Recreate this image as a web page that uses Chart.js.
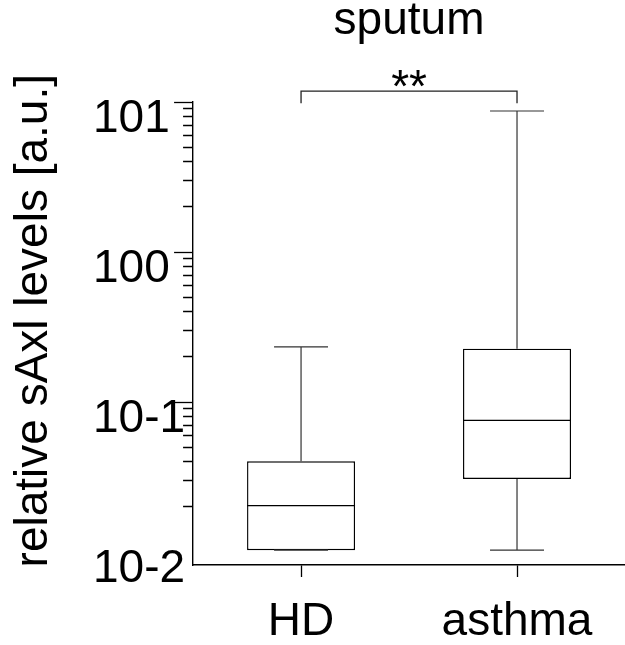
<!DOCTYPE html>
<html>
<head>
<meta charset="utf-8">
<script src="https://cdn.jsdelivr.net/npm/chart.js@4.4.0/dist/chart.umd.min.js"></script>
<style>
  html, body { margin: 0; padding: 0; background: #fff; }
  canvas { display: block; }
</style>
</head>
<body>
<canvas id="chart" width="625" height="645"></canvas>
<script>
// box plot values (log axis)
const categories = ['HD', 'asthma'];
const whiskerMin = [0.0103, 0.0103];
const quartile1  = [0.0103, 0.0307];
const medians    = [0.0204, 0.0755];
const quartile3  = [0.0403, 0.227];
const whiskerMax = [0.233, 8.71];

// significance bracket HD vs asthma
const sigLabel = '**';
const sigBracket = [9.8, 11.8]; // foot of the legs, top of the bracket

// y axis
const yMin = 0.0082;
const yMax = 10;
const yMajorTicks = [0.01, 0.1, 1, 10];
const yTickLabels = ['10-2', '10-1', '100', '101'];
const yMinorTicks = [0.02, 0.03, 0.04, 0.05, 0.06, 0.07, 0.08, 0.09,
                     0.2, 0.3, 0.4, 0.5, 0.6, 0.7, 0.8, 0.9,
                     2, 3, 4, 5, 6, 7, 8, 9];

const titleText = 'sputum';
const yTitleText = '  relative sAxl levels [a.u.]';

const FONT = "'Liberation Sans', Arial, sans-serif";
Chart.defaults.font.family = FONT;
Chart.defaults.color = '#000';

// half widths in category units (box and whisker caps)
const boxHalf = 0.25;
const capHalf = 0.125;

const gap = x => ({ x: x, y: null });

const whiskerPts = [];
const medianPts = [];
categories.forEach((c, i) => {
    whiskerPts.push({ x: i, y: quartile3[i] }, { x: i, y: whiskerMax[i] }, gap(i));
    whiskerPts.push({ x: i, y: quartile1[i] }, { x: i, y: whiskerMin[i] }, gap(i));
    whiskerPts.push({ x: i - capHalf, y: whiskerMax[i] }, { x: i + capHalf, y: whiskerMax[i] }, gap(i));
    whiskerPts.push({ x: i - capHalf, y: whiskerMin[i] }, { x: i + capHalf, y: whiskerMin[i] }, gap(i));
    medianPts.push({ x: i - boxHalf, y: medians[i] }, { x: i + boxHalf, y: medians[i] }, gap(i));
});

const bracketPts = [
    { x: 0, y: sigBracket[0] }, { x: 0, y: sigBracket[1] },
    { x: 1, y: sigBracket[1] }, { x: 1, y: sigBracket[0] }
];

const boxes = categories.map((c, i) => ({ x: i, y: [quartile1[i], quartile3[i]] }));

const lineStyle = {
    type: 'line',
    pointRadius: 0,
    fill: false,
    tension: 0,
    spanGaps: false
};

new Chart(document.getElementById('chart'), {
    type: 'bar',
    data: {
        datasets: [
            Object.assign({ data: medianPts, borderColor: '#000', borderWidth: 1.3 }, lineStyle),
            Object.assign({ data: whiskerPts, borderColor: '#333', borderWidth: 1.2 }, lineStyle),
            Object.assign({ data: bracketPts, borderColor: '#222', borderWidth: 1.3, clip: false }, lineStyle),
            {
                type: 'bar',
                data: boxes,
                backgroundColor: '#fff',
                borderColor: '#000',
                borderWidth: 1.4,
                borderSkipped: false,
                categoryPercentage: 1,
                barPercentage: 0.5
            }
        ]
    },
    options: {
        responsive: false,
        animation: false,
        devicePixelRatio: 1,
        layout: { padding: { top: 0, left: 0, right: 0, bottom: -22 } },
        plugins: {
            legend: { display: false },
            tooltip: { enabled: false }
        },
        scales: {
            x: {
                type: 'linear',
                position: 'bottom',
                offset: false,
                min: -0.5,
                max: 1.5,
                afterBuildTicks: axis => { axis.ticks = categories.map((c, i) => ({ value: i })); },
                ticks: {
                    autoSkip: false,
                    maxRotation: 0,
                    padding: 22,
                    color: '#000',
                    font: { size: 46, lineHeight: 1 },
                    callback: v => categories[v]
                },
                grid: { offset: false, drawOnChartArea: false, tickLength: 12, tickColor: '#000', tickWidth: 1.3 },
                border: { color: '#000', width: 1.4 }
            },
            xTop: {
                type: 'linear',
                position: 'top',
                offset: false,
                min: -0.5,
                max: 1.5,
                afterBuildTicks: axis => { axis.ticks = [{ value: 0.5 }]; },
                ticks: {
                    autoSkip: false,
                    maxRotation: 0,
                    padding: -10.5,
                    color: '#000',
                    font: { size: 46, lineHeight: 1 },
                    callback: () => sigLabel
                },
                grid: { offset: false, display: false, drawTicks: false },
                border: { display: false },
                title: {
                    display: true,
                    text: titleText,
                    color: '#000',
                    font: { size: 46 },
                    padding: { top: -6.6, bottom: 28.4 }
                }
            },
            y: {
                type: 'logarithmic',
                position: 'left',
                weight: 0,
                min: yMin,
                max: yMax,
                afterBuildTicks: axis => {
                    axis.ticks = yMinorTicks.concat(yMajorTicks)
                        .sort((a, b) => a - b)
                        .map(v => ({ value: v }));
                },
                ticks: {
                    autoSkip: false,
                    crossAlign: 'far',
                    padding: -5.5,
                    labelOffset: 17,
                    color: '#000',
                    font: { size: 46, lineHeight: 1.2 },
                    callback: v => {
                        const k = yMajorTicks.indexOf(v);
                        return k >= 0 ? yTickLabels[k] : '';
                    }
                },
                grid: {
                    drawOnChartArea: false,
                    tickLength: 19,
                    tickWidth: 1.3,
                    // no visible tick at the bottom decade
                    tickColor: ctx => (ctx.tick && ctx.tick.value === yMajorTicks[0]) ? 'rgba(0,0,0,0)' : '#000',
                    // minor ticks are shorter: only the inner 10px of the tick is drawn
                    tickBorderDash: ctx => (ctx.tick && yMajorTicks.includes(ctx.tick.value)) ? [] : [0, 9, 10, 100]
                },
                border: { color: '#000', width: 1.4 }
            },
            yTitle: {
                type: 'linear',
                position: 'left',
                weight: 10,
                ticks: { display: false },
                grid: { display: false, drawTicks: false },
                border: { display: false },
                title: {
                    display: true,
                    text: yTitleText,
                    color: '#000',
                    font: { size: 46 },
                    padding: { top: 6.4, bottom: 31.4 }
                }
            }
        }
    }
});
</script>
</body>
</html>
